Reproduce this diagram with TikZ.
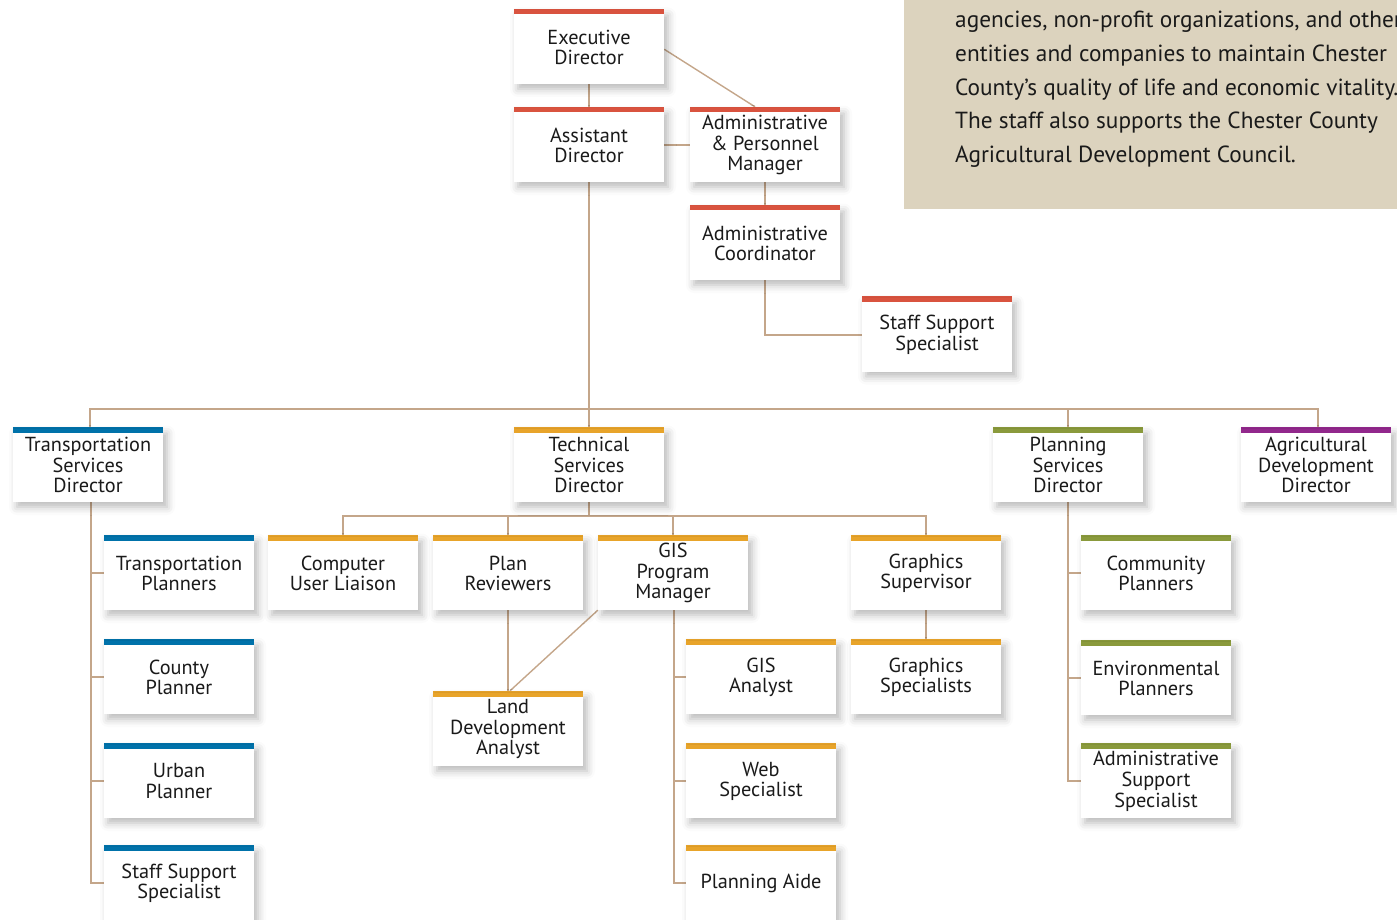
\documentclass[tikz,border=0pt]{standalone}
\usepackage{fontspec}
\setmainfont{PT Sans}
\usetikzlibrary{shadows.blur,calc}
\pgfdeclarelayer{background}
\pgfsetlayers{background,main}
\definecolor{cred}{HTML}{D9533F}
\definecolor{cblue}{HTML}{0072AA}
\definecolor{corange}{HTML}{E8A42A}
\definecolor{cgreen}{HTML}{8A9A3C}
\definecolor{cpurple}{HTML}{92288C}
\definecolor{cline}{HTML}{C4A68A}
\definecolor{cpanel}{HTML}{DCD3BE}
\definecolor{ctext}{HTML}{1A1A1A}
\tikzset{
  card/.style={fill=white, draw=none, inner sep=0pt, yshift=-0.75pt,
    minimum width=150pt, minimum height=73.5pt, align=center,
    text=ctext, font=\fontsize{20.3}{20.6}\selectfont,
    blur shadow={shadow xshift=4pt, shadow yshift=-5pt, shadow blur radius=8pt, shadow opacity=28},
    path picture={\fill[#1] (path picture bounding box.north west) rectangle ([yshift=-4pt]path picture bounding box.north east);},
    append after command={\pgfextra{\fill[#1] ([yshift=1.5pt]\tikzlastnode.north west) rectangle ([yshift=-0.5pt]\tikzlastnode.north east);}}},
  conn/.style={draw=cline, line width=2pt},
  diag/.style={draw=cline, line width=1.4pt},
  ptext/.style={anchor=base west, inner sep=0pt, text=ctext, font=\fontsize{23.3}{33.5}\selectfont}
}
\begin{document}
\begin{tikzpicture}[x=1pt,y=-1pt]
\useasboundingbox (0,0) rectangle (1397,920);
\clip (0,0) rectangle (1397,920);
% text panel
\fill[cpanel] (904,-10) rectangle (1410,209);
\node[ptext] (p1) at (955,28) {agencies, non-profit organizations, and other};
\node[ptext] (p2) at (955,62) {entities and companies to maintain Chester};
\node[ptext] (p3) at (955,95.5) {County’s quality of life and economic vitality.};
\node[ptext] (p4) at (955,129) {The staff also supports the Chester County};
\node[ptext] (p5) at (955,162.5) {Agricultural Development Council.};

% coordinates for buses
\coordinate (busy) at (0,409);
\coordinate (tbus) at (0,516);

% top group
\node[card=cred] (exec) at (589,46.5) {Executive\\Director};
\node[card=cred] (asst) at (589,144.5) {Assistant\\Director};
\node[card=cred] (apm) at (765,144.5) {Administrative\\\& Personnel\\Manager};
\node[card=cred] (coord) at (765,242.5) {Administrative\\Coordinator};
\node[card=cred] (ss1) at (937,334) {Staff Support\\Specialist};

% level 2
\node[card=cblue] (tsd) at (88,464.5) {Transportation\\Services\\Director};
\node[card=corange] (techd) at (589,464.5) {Technical\\Services\\Director};
\node[card=cgreen] (psd) at (1068,464.5) {Planning\\Services\\Director};
\node[card=cpurple] (agd) at (1316,464.5) {Agricultural\\Development\\Director};

% transportation
\node[card=cblue] (tp) at (179,572.5) {Transportation\\Planners};
\node[card=cblue] (cp) at (179,676.5) {County\\Planner};
\node[card=cblue] (up) at (179,780.5) {Urban\\Planner};
\node[card=cblue] (ss2) at (179,882.5) {Staff Support\\Specialist};

% technical
\node[card=corange] (cul) at (343,572.5) {Computer\\User Liaison};
\node[card=corange] (prev) at (508,572.5) {Plan\\Reviewers};
\node[card=corange] (gpm) at (673,572.5) {GIS\\Program\\Manager};
\node[card=corange] (gsup) at (926,572.5) {Graphics\\Supervisor};
\node[card=corange] (gspec) at (926,676.5) {Graphics\\Specialists};
\node[card=corange] (lda) at (508,728.5) {Land\\Development\\Analyst};
\node[card=corange] (gisa) at (761,676.5) {GIS\\Analyst};
\node[card=corange] (web) at (761,780.5) {Web\\Specialist};
\node[card=corange] (aide) at (761,882.5) {Planning Aide};

% planning
\node[card=cgreen] (comm) at (1156,572.5) {Community\\Planners};
\node[card=cgreen] (env) at (1156,677.5) {Environmental\\Planners};
\node[card=cgreen] (ass) at (1156,780.5) {Administrative\\Support\\Specialist};

\begin{pgfonlayer}{background}
% connectors: top
\draw[conn] (exec.south) -- (asst.north);
\draw[diag] ([yshift=-2pt]exec.east) -- ([xshift=-10pt,yshift=1.5pt]apm.north);
\draw[conn] (asst.east) -- (apm.west);
\draw[conn] (apm.south) -- (coord.north);
\draw[conn] (coord.south) |- (ss1.west);
% main bus
\draw[conn] (asst.south) -- (techd.north);
\draw[conn] ([xshift=2pt]tsd.north) |- ([xshift=2pt]agd.north |- busy) -- ([xshift=2pt]agd.north);
\draw[conn] (psd.north) -- (psd.north |- busy);
% transportation
\draw[conn] ([xshift=3pt]tsd.south) |- (ss2.west);
\draw[conn] ([xshift=3pt]tsd.south |- tp.west) -- (tp.west);
\draw[conn] ([xshift=3pt]tsd.south |- cp.west) -- (cp.west);
\draw[conn] ([xshift=3pt]tsd.south |- up.west) -- (up.west);
% technical
\draw[conn] (techd.south) -- (techd.south |- tbus);
\draw[conn] (cul.north) |- (gsup.north |- tbus) -- (gsup.north);
\draw[conn] (prev.north) -- (prev.north |- tbus);
\draw[conn] (gpm.north) -- (gpm.north |- tbus);
\draw[conn] (gsup.south) -- (gspec.north);
\draw[conn] (prev.south) -- (lda.north);
\draw[diag] (gpm.south west) -- ([xshift=2pt,yshift=1.5pt]lda.north);
\draw[conn] ([xshift=1pt]gpm.south) |- (aide.west);
\draw[conn] ([xshift=1pt]gpm.south |- gisa.west) -- (gisa.west);
\draw[conn] ([xshift=1pt]gpm.south |- web.west) -- (web.west);
% planning
\draw[conn] (psd.south) |- (ass.west);
\draw[conn] (psd.south |- comm.west) -- (comm.west);
\draw[conn] (psd.south |- env.west) -- (env.west);
\end{pgfonlayer}
\end{tikzpicture}
\end{document}
